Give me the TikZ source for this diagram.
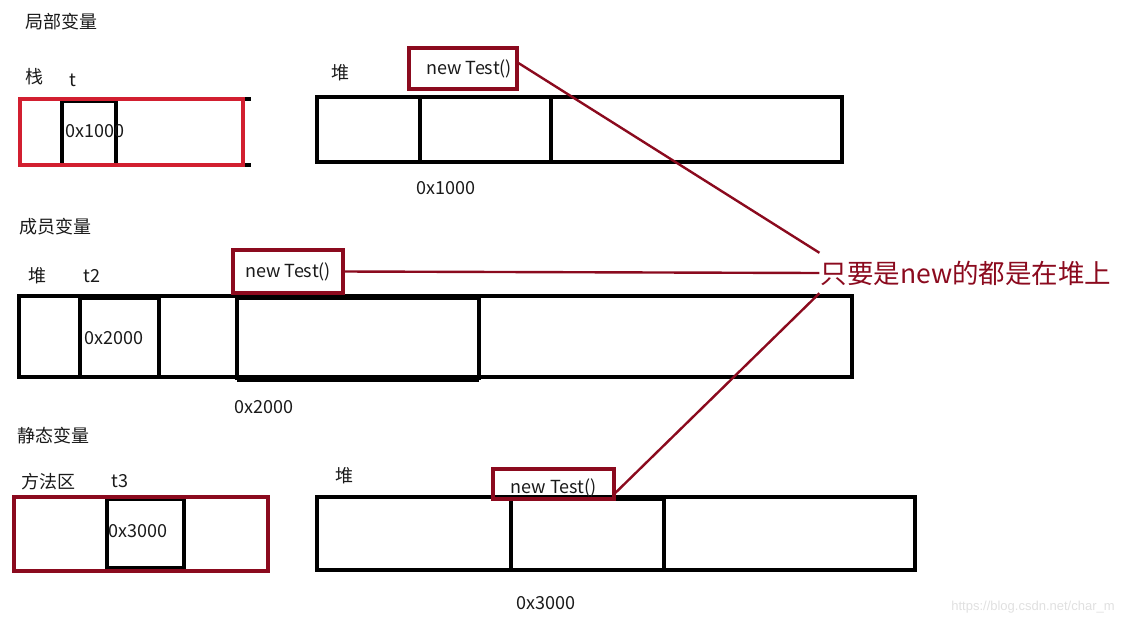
\documentclass[tikz,border=0pt]{standalone}
\usepackage{fontspec}
\setmainfont{Noto Sans CJK SC}
\newfontfamily\markfont{Liberation Sans}
\definecolor{memRed}{HTML}{8B0A1E}
\definecolor{memBright}{HTML}{D21F30}
\definecolor{memInk}{HTML}{1A1A1A}
\tikzset{
  mem line/.style={draw=black, line width=3.2pt},
  mem title/.style={font=\fontsize{18}{18}\selectfont, text=memInk},
  mem label/.style={font=\fontsize{18}{18}\selectfont, text=memInk},
  new box/.style={draw=memRed, line width=3.2pt, inner sep=0pt, font=\fontsize{18}{18}\selectfont, text=memInk},
  note text/.style={font=\fontsize{26.5}{26.5}\selectfont, text=memRed, minimum height=40pt, inner sep=1pt},
  note line/.style={draw=memRed, line width=2.4pt},
}
\begin{document}
\begin{tikzpicture}[x=1pt,y=-1pt]
  \useasboundingbox (0,0) rectangle (1142,625);
  % Local variable: stack and heap
  \node[mem title] (title1) at (61,22) {局部变量};
  \node[mem label] (stack1) at (34,77) {栈};
  \node[mem label] (t1) at (73,80) {t};
  \draw[mem line] (243,99) -- (251,99) (243,165) -- (251,165);
  \draw[mem line] (62,101) rectangle (116,165);
  \draw[mem line, draw=memBright] (20,99) rectangle (243,165);
  \node[mem label, anchor=west, inner sep=0pt] (v1) at (65,131) {0x1000};
  \node[mem label] (heap1) at (340,73) {堆};
  \draw[mem line] (317,97) rectangle (842,162);
  \draw[mem line] (420,97) -- (420,162) (551,97) -- (551,162);
  \draw[mem line, line width=4.5pt] (317,95) -- (317,164);
  \node[new box, minimum width=108pt, minimum height=41pt] (nt1) at (463,68.5) {\hspace*{12pt}new Test()};
  \node[mem label] (a1) at (446,188) {0x1000};
  % Member variable: all on the heap
  \node[mem title] (title2) at (55,227) {成员变量};
  \node[mem label] (heap2) at (37,276) {堆};
  \node[mem label] (t2) at (92,276) {t2};
  \draw[mem line] (19,296) rectangle (852,377);
  \draw[mem line] (80,298) rectangle (159,377);
  \draw[mem line, line width=3.8pt] (237,298) rectangle (479,378);
  \draw[mem line, line width=5pt] (237,379) -- (479,379);
  \node[mem label, anchor=west, inner sep=0pt] (v2) at (84,338) {0x2000};
  \node[new box, minimum width=110pt, minimum height=43pt] (nt2) at (288,271.5) {new Test()};
  \node[mem label] (a2) at (264,407) {0x2000};
  % Static variable: method area and heap
  \node[mem title] (title3) at (53,436) {静态变量};
  \node[mem label] (area3) at (48,482) {方法区};
  \node[mem label] (t3) at (120,481) {t3};
  \draw[mem line] (14,497) rectangle (268,571);
  \draw[mem line] (107,499) rectangle (184,568);
  \draw[mem line, draw=memRed] (14,497) rectangle (268,571);
  \node[mem label, anchor=west, inner sep=0pt] (v3) at (108,531) {0x3000};
  \node[mem label] (heap3) at (344,476) {堆};
  \draw[mem line] (317,497) rectangle (915,570);
  \draw[mem line] (511,499) rectangle (664,570);
  \node[new box, minimum width=121pt, minimum height=30pt, text depth=0pt] (nt3) at (553.5,484) {\raisebox{-5pt}{new Test()}};
  \node[mem label] (a3) at (546,603) {0x3000};
  % Callout
  \node[note text] (note) at (966,273) {只要是new的都是在堆上};
  \draw[note line] ([xshift=-1pt, yshift=6pt]nt1.east) -- (note.north west);
  \draw[note line] (nt2.east) -- (note.west);
  \draw[note line] ([xshift=-2pt, yshift=6pt]nt3.south east) -- (note.south west);
  \node[font=\markfont\fontsize{13}{13}\selectfont, text=black!12] (mark) at (1033,607) {https://blog.csdn.net/char\_m};
\end{tikzpicture}
\end{document}
